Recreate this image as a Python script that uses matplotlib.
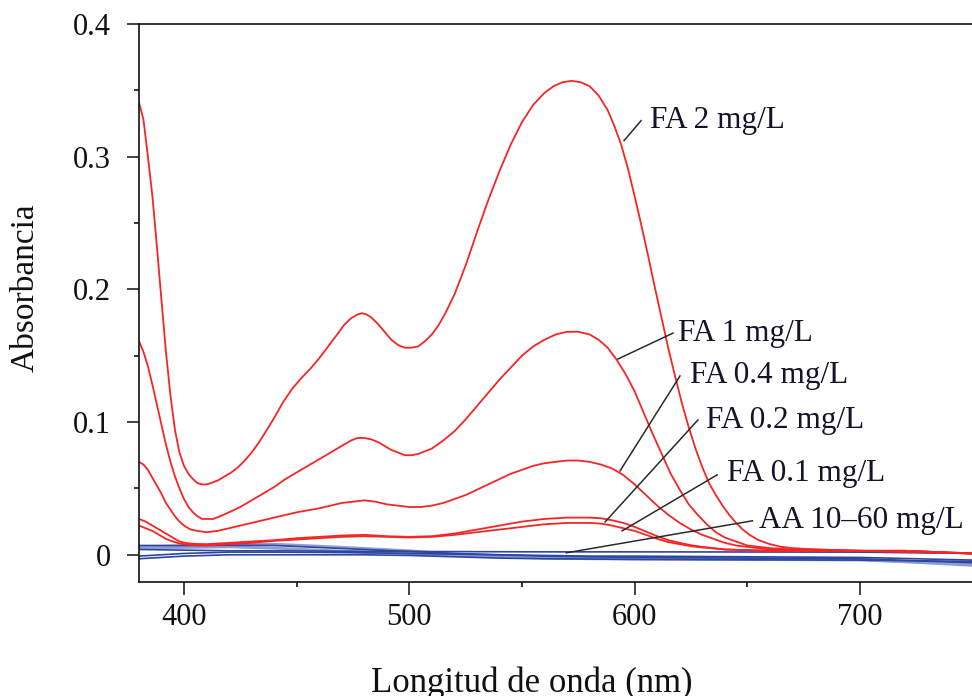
import matplotlib
matplotlib.use("Agg")
import matplotlib.pyplot as plt
from matplotlib.ticker import FixedLocator, MultipleLocator

plt.rcParams['font.family'] = ['Liberation Serif', 'DejaVu Serif']

# ---------------- data ----------------
wl_fa2 = [380, 382, 384, 386, 388, 390, 392, 394, 396, 398, 400, 402, 404, 406, 408, 410,
          412, 415, 418, 421, 424, 427, 430, 433, 436, 440, 444, 448, 452, 456, 460, 464,
          468, 471, 474, 477, 479, 481, 483, 486, 489, 492, 495, 498, 501, 504, 507, 510,
          513, 516, 520, 525, 530, 535, 540, 545, 550, 555, 560, 564, 568, 572, 576, 580,
          584, 588, 591, 594, 597, 600, 603, 606, 609, 612, 615, 618, 621, 624, 627, 630,
          633, 636, 639, 642, 645, 648, 651, 655, 660, 665, 670, 680, 700, 720, 750]
fa2 = [0.341, 0.328, 0.300, 0.270, 0.232, 0.192, 0.153, 0.120, 0.094, 0.077, 0.067, 0.061,
       0.057, 0.054, 0.053, 0.053, 0.054, 0.056, 0.059, 0.062, 0.066, 0.071, 0.077, 0.084,
       0.092, 0.103, 0.115, 0.125, 0.133, 0.140, 0.148, 0.157, 0.166, 0.173, 0.178, 0.181,
       0.182, 0.181, 0.179, 0.174, 0.168, 0.162, 0.158, 0.156, 0.156, 0.157, 0.161, 0.166,
       0.173, 0.182, 0.196, 0.218, 0.243, 0.267, 0.289, 0.309, 0.326, 0.339, 0.348, 0.353,
       0.356, 0.357, 0.356, 0.353, 0.346, 0.335, 0.323, 0.309, 0.291, 0.270, 0.248, 0.225,
       0.201, 0.178, 0.155, 0.134, 0.114, 0.096, 0.080, 0.066, 0.054, 0.045, 0.037, 0.030,
       0.024, 0.019, 0.015, 0.011, 0.008, 0.006, 0.005, 0.004, 0.003, 0.003, 0.001]

wl_fa1 = [380, 382, 384, 386, 388, 390, 392, 394, 396, 398, 400, 402, 404, 406, 408, 410,
          413, 416, 420, 425, 430, 435, 440, 445, 450, 455, 460, 465, 470, 474, 477, 480,
          483, 486, 489, 492, 495, 498, 501, 504, 507, 510, 515, 520, 525, 530, 535, 540,
          545, 550, 555, 560, 565, 570, 575, 580, 584, 588, 592, 596, 600, 604, 608, 612,
          616, 620, 624, 628, 632, 636, 640, 645, 650, 655, 660, 670, 680, 700, 720, 750]
fa1 = [0.161, 0.153, 0.142, 0.128, 0.113, 0.098, 0.083, 0.070, 0.059, 0.050, 0.042, 0.036,
       0.032, 0.029, 0.027, 0.027, 0.027, 0.029, 0.032, 0.036, 0.041, 0.046, 0.051, 0.057,
       0.062, 0.067, 0.072, 0.077, 0.082, 0.086, 0.088, 0.088, 0.087, 0.085, 0.082, 0.079,
       0.077, 0.075, 0.075, 0.076, 0.078, 0.080, 0.086, 0.093, 0.102, 0.112, 0.122, 0.132,
       0.141, 0.150, 0.157, 0.162, 0.166, 0.168, 0.168, 0.166, 0.162, 0.156, 0.147, 0.136,
       0.123, 0.107, 0.091, 0.076, 0.061, 0.049, 0.038, 0.030, 0.023, 0.017, 0.013, 0.010,
       0.007, 0.006, 0.005, 0.004, 0.004, 0.003, 0.003, 0.001]

wl_fa04 = [380, 382, 384, 386, 388, 390, 392, 394, 396, 398, 400, 403, 406, 410, 415, 420,
           425, 430, 440, 450, 460, 470, 475, 480, 485, 490, 495, 500, 505, 510, 515, 520,
           525, 530, 535, 540, 545, 550, 555, 560, 565, 570, 575, 580, 585, 590, 595, 600,
           605, 610, 615, 620, 625, 630, 635, 640, 645, 650, 660, 680, 700, 720, 750]
fa04 = [0.070, 0.068, 0.064, 0.058, 0.052, 0.046, 0.039, 0.034, 0.029, 0.025, 0.022, 0.019,
        0.018, 0.017, 0.018, 0.020, 0.022, 0.024, 0.028, 0.032, 0.035, 0.039, 0.040, 0.041,
        0.040, 0.038, 0.037, 0.036, 0.036, 0.037, 0.039, 0.042, 0.045, 0.049, 0.053, 0.057,
        0.061, 0.064, 0.067, 0.069, 0.070, 0.071, 0.071, 0.070, 0.068, 0.065, 0.060, 0.053,
        0.045, 0.037, 0.030, 0.024, 0.019, 0.015, 0.012, 0.009, 0.007, 0.006, 0.004, 0.003,
        0.003, 0.003, 0.001]

wl_low = [380, 383, 386, 389, 392, 395, 398, 401, 405, 410, 420, 430, 440, 450, 460, 470,
          480, 490, 500, 510, 520, 530, 540, 550, 560, 570, 580, 585, 590, 595, 600, 605,
          610, 615, 620, 625, 630, 640, 660, 700, 750]
fa02 = [0.027, 0.025, 0.022, 0.019, 0.016, 0.013, 0.010, 0.0088, 0.0082, 0.008, 0.009,
        0.010, 0.011, 0.0125, 0.0135, 0.0145, 0.015, 0.014, 0.0135, 0.014, 0.016, 0.019,
        0.022, 0.025, 0.027, 0.028, 0.028, 0.0275, 0.026, 0.024, 0.021, 0.0175, 0.014,
        0.011, 0.009, 0.0072, 0.006, 0.004, 0.003, 0.003, 0.001]
fa01 = [0.022, 0.020, 0.018, 0.015, 0.012, 0.010, 0.0085, 0.0078, 0.0072, 0.007, 0.008,
        0.009, 0.0105, 0.0115, 0.0125, 0.0135, 0.014, 0.0135, 0.013, 0.0135, 0.015, 0.017,
        0.019, 0.021, 0.023, 0.024, 0.024, 0.0235, 0.022, 0.020, 0.018, 0.015, 0.012,
        0.0095, 0.008, 0.0065, 0.0055, 0.004, 0.003, 0.003, 0.001]

wl_aa = [380, 400, 420, 440, 460, 480, 500, 520, 540, 560, 580, 600, 650, 700, 750]
aa10 = [0.004, 0.0035, 0.003, 0.003, 0.0028, 0.0026, 0.0025, 0.0024, 0.0023, 0.0022, 0.0022,
        0.0022, 0.0021, 0.002, 0.001]
aa20 = [0.007, 0.007, 0.0072, 0.007, 0.0055, 0.004, 0.0025, 0.001, 0.0, -0.001, -0.0015,
        -0.002, -0.0025, -0.003, -0.006]
aa30 = [0.006, 0.0068, 0.0075, 0.008, 0.0065, 0.0048, 0.003, 0.0005, -0.001, -0.002, -0.0025,
        -0.0028, -0.003, -0.0035, -0.008]
aa40 = [0.005, 0.0055, 0.006, 0.005, 0.0035, 0.002, 0.001, -0.0005, -0.0015, -0.0025, -0.003,
        -0.0032, -0.0035, -0.004, -0.007]
aa50 = [-0.001, 0.001, 0.002, 0.002, 0.0018, 0.0015, 0.001, 0.0005, 0.0, -0.0005, -0.001,
        -0.001, -0.0015, -0.002, -0.004]
aa60 = [-0.003, -0.001, 0.0, 0.0, 0.0, 0.0, -0.0005, -0.0015, -0.0025, -0.003, -0.0032,
        -0.0035, -0.0038, -0.004, -0.005]

x_ticks = [400, 500, 600, 700]
y_ticks = [0, 0.1, 0.2, 0.3, 0.4]
y_tick_labels = ['0', '0.1', '0.2', '0.3', '0.4']

labels = ['FA 2 mg/L', 'FA 1 mg/L', 'FA 0.4 mg/L', 'FA 0.2 mg/L', 'FA 0.1 mg/L',
          'AA 10\u201360 mg/L']
# leader lines: (point on curve), (line end), text anchor (left, centre)
leaders = [((595.3, 0.312), (602.8, 0.327), (606.8, 0.327)),
           ((592.6, 0.1475), (617.0, 0.167), (619.3, 0.167)),
           ((593.5, 0.0632), (620.1, 0.1347), (624.6, 0.1354)),
           ((586.9, 0.0248), (628.1, 0.1016), (631.7, 0.1008)),
           ((594.4, 0.018), (636.6, 0.0602), (641.0, 0.0609)),
           ((569.7, 0.0015), (652.3, 0.0256), (655.0, 0.0256))]

# ---------------- figure ----------------
fig = plt.figure(figsize=(9.72, 6.96), dpi=100)
ax = fig.add_axes([138.9 / 972, 1 - 582 / 696, (972.7 - 138.9) / 972, (582 - 23.8) / 696])

red = '#f52525'
blue_dark = '#2c46a2'
blue_light = '#8e9dd2'

for yv, c, lw in [(aa30, blue_light, 2.0), (aa40, blue_light, 2.0), (aa20, blue_dark, 1.2),
                  (aa50, blue_dark, 1.2), (aa60, blue_dark, 1.2), (aa10, blue_dark, 1.2)]:
    ax.plot(wl_aa, yv, color=c, lw=lw, solid_capstyle='butt')

for xv, yv in [(wl_low, fa01), (wl_low, fa02), (wl_fa04, fa04), (wl_fa1, fa1), (wl_fa2, fa2)]:
    ax.plot(xv, yv, color=red, lw=1.3, solid_joinstyle='round')

for lab, (p0, p1, pt) in zip(labels, leaders):
    ax.plot([p0[0], p1[0]], [p0[1], p1[1]], color='#2a2a2a', lw=1.1)
    ax.text(pt[0], pt[1], lab, fontsize=22.5, ha='left', va='center', color='#141428',
            family=['Liberation Serif', 'DejaVu Serif'])

ax.set_xlim(380, 750)
ax.set_ylim(-0.0205, 0.4)

ax.xaxis.set_major_locator(FixedLocator(x_ticks))
ax.xaxis.set_minor_locator(MultipleLocator(50))
ax.yaxis.set_major_locator(FixedLocator(y_ticks))
ax.yaxis.set_minor_locator(MultipleLocator(0.05))
ax.set_yticklabels(y_tick_labels)

ax.tick_params(which='major', direction='out', length=9, width=1.1, labelsize=22,
               colors='#111111')
ax.tick_params(which='minor', direction='out', length=3.6, width=1.1)
ax.tick_params(axis='y', which='major', pad=11)
ax.tick_params(axis='x', which='major', pad=6)
ax.tick_params(top=False, right=False, which='both')

for s in ['left', 'bottom', 'top']:
    ax.spines[s].set_linewidth(1.2)
    ax.spines[s].set_color('#111111')
ax.spines['right'].set_visible(False)

ax.set_xlabel('Longitud de onda (nm)', fontsize=25, va='baseline', color='#111111')
ax.xaxis.set_label_coords((532 - 138.9) / (972.7 - 138.9), (582 - 692) / (582 - 23.8))
ax.set_ylabel('Absorbancia', fontsize=24, va='center', color='#111111')
ax.yaxis.set_label_coords((25 - 138.9) / (972.7 - 138.9), (582 - 288) / (582 - 23.8))

fig.savefig('out.png', dpi=100)
